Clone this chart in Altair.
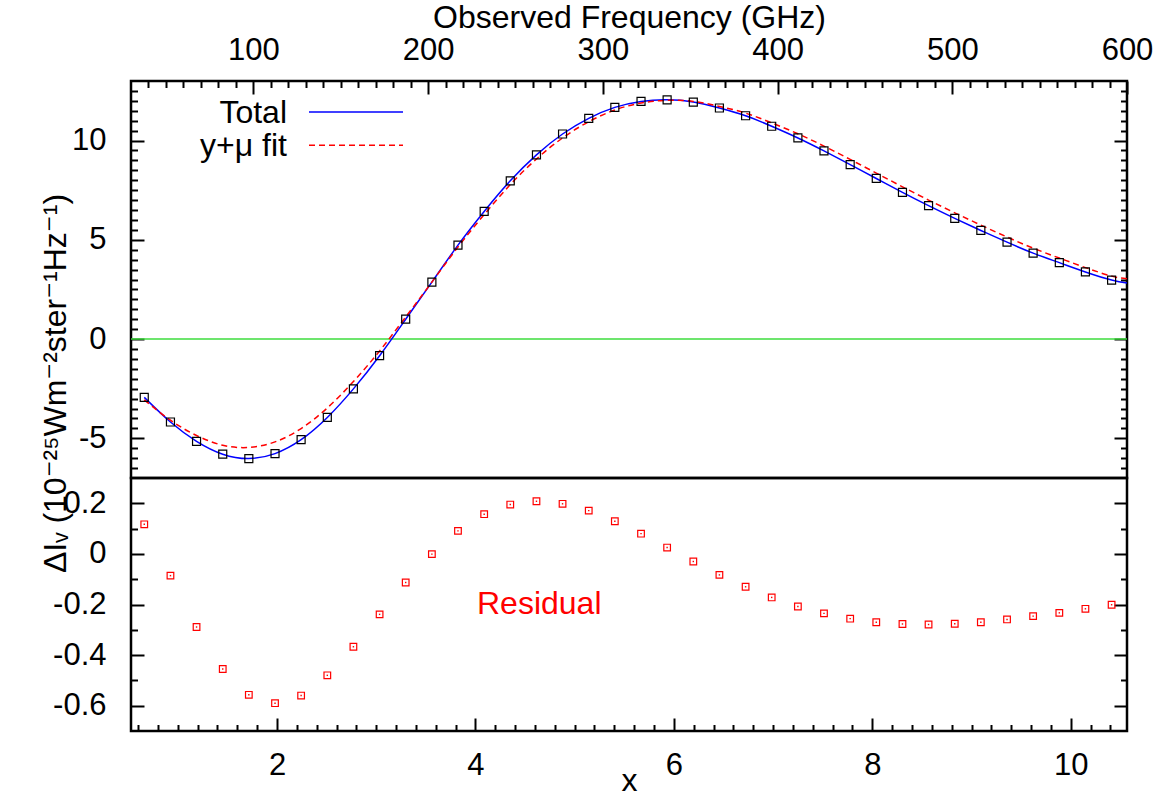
import altair as alt
import pandas as pd

# ---------------- values ----------------
X = [0.662, 0.926, 1.189, 1.453, 1.716, 1.980, 2.243, 2.507, 2.770, 3.034,
     3.297, 3.561, 3.824, 4.088, 4.351, 4.615, 4.878, 5.142, 5.405, 5.669,
     5.932, 6.196, 6.459, 6.723, 6.986, 7.250, 7.513, 7.777, 8.040, 8.304,
     8.567, 8.831, 9.094, 9.358, 9.621, 9.885, 10.148, 10.412]
DATA = [-2.94, -4.18, -5.15, -5.80, -6.02, -5.77, -5.07, -3.95, -2.51, -0.84,
        1.00, 2.87, 4.73, 6.43, 7.97, 9.28, 10.33, 11.12, 11.67, 11.97,
        12.05, 11.94, 11.64, 11.25, 10.72, 10.13, 9.48, 8.79, 8.09, 7.39,
        6.72, 6.08, 5.47, 4.88, 4.33, 3.85, 3.38, 2.97]
FIT = [-3.06, -4.09, -4.86, -5.35, -5.46, -5.18, -4.51, -3.47, -2.14, -0.60,
       1.11, 2.87, 4.64, 6.27, 7.78, 9.07, 10.13, 10.95, 11.54, 11.89,
       12.03, 11.97, 11.72, 11.38, 10.89, 10.34, 9.72, 9.05, 8.36, 7.67,
       7.00, 6.36, 5.74, 5.14, 4.58, 4.08, 3.60, 3.17]
RESID = [0.117, -0.086, -0.289, -0.455, -0.557, -0.590, -0.560, -0.480, -0.367, -0.239,
         -0.113, -0.001, 0.091, 0.157, 0.195, 0.208, 0.198, 0.171, 0.129, 0.080,
         0.025, -0.030, -0.083, -0.130, -0.172, -0.208, -0.235, -0.256, -0.270, -0.277,
         -0.279, -0.276, -0.270, -0.259, -0.246, -0.233, -0.217, -0.201]
CURVE_END_X = 10.567
TOTAL_END = 2.82
FIT_END = 3.04

FREQ_MAJOR = [100, 200, 300, 400, 500, 600]
FREQ_MINOR = [f for f in range(40, 600, 10) if f % 100 != 0]
TOP_Y_MAJOR = [-5, 0, 5, 10]
TOP_Y_MINOR = [v / 2 for v in range(-13, 26) if v % 10 != 0]
BOT_X_MAJOR = [2, 4, 6, 8, 10]
BOT_X_MINOR = [k / 5 for k in range(3, 53) if k % 10 != 0]
BOT_Y_MAJOR = [-0.6, -0.4, -0.2, 0, 0.2]
BOT_Y_MINOR = [-0.5, -0.3, -0.1, 0.1]

YTITLE = "ΔIᵥ (10⁻²⁵Wm⁻²ster⁻¹Hz⁻¹)"

# ---------------- layout / style ----------------
FONT = "Liberation Sans, Arial, DejaVu Sans"
W, H_TOP, H_BOT = 996, 397, 253
GHZ = 0.04799243 / 2.725          # x = h nu / k T per GHz
XDOM = [30 * GHZ, 600 * GHZ]
MAJ, MIN = 13, 6.5
LAB = 31
TIT = 32

pts = pd.DataFrame({"x": X, "data": DATA, "resid": RESID})
curve = pd.DataFrame({"x": X + [CURVE_END_X], "total": DATA + [TOTAL_END], "fit": FIT + [FIT_END]})
one = pd.DataFrame({"k": [0]})
zero = pd.DataFrame({"y": [0]})

xs = alt.Scale(domain=XDOM, nice=False, zero=False)
yt = alt.Scale(domain=[-7, 13], nice=False, zero=False)
yb = alt.Scale(domain=[-0.7, 0.3], nice=False, zero=False)


def tick_axis(orient, values, size):
    return alt.Axis(orient=orient, values=values, tickSize=size, offset=-size,
                    labels=False, domain=False, title=None, grid=False, ticks=True)


def carrier(xaxis, yaxis, yfield, yscale):
    return alt.Chart(pts).mark_point(opacity=0).encode(
        x=alt.X("x:Q", scale=xs, axis=xaxis),
        y=alt.Y(f"{yfield}:Q", scale=yscale, axis=yaxis))


# ---------------- top panel ----------------
top_x_lab = alt.Axis(orient="top", values=[f * GHZ for f in FREQ_MAJOR],
                     labelExpr=f"toString(round(datum.value / {GHZ}))",
                     ticks=False, tickSize=0, domain=False, labelPadding=21.7,
                     labelBaseline="alphabetic", labelFlush=False, labelOverlap=False,
                     title="Observed Frequency (GHz)", titleFontSize=TIT,
                     titleBaseline="alphabetic", titleY=-53.7, grid=False)
top_y_lab = alt.Axis(orient="left", values=TOP_Y_MAJOR, labelExpr="toString(datum.value)",
                     ticks=False, tickSize=0, domain=False, labelPadding=25,
                     labelFlush=False, labelOverlap=False,
                     title=YTITLE, titleFontSize=TIT, titleBaseline="alphabetic",
                     titleX=-66, titleY=302, titleAngle=270, titleAlign="center", grid=False)

fm = [f * GHZ for f in FREQ_MAJOR]
fn = [f * GHZ for f in FREQ_MINOR]

top_layers = [
    alt.Chart(zero).mark_rule(color="#3cdc3c", strokeWidth=1.5).encode(
        y=alt.Y("y:Q", scale=yt, axis=None)),
    carrier(top_x_lab, top_y_lab, "data", yt),
    carrier(tick_axis("top", fm, MAJ), tick_axis("left", TOP_Y_MAJOR, MAJ), "data", yt),
    carrier(tick_axis("top", fn, MIN), tick_axis("left", TOP_Y_MINOR, MIN), "data", yt),
    carrier(None, tick_axis("right", TOP_Y_MAJOR, MAJ), "data", yt),
    carrier(None, tick_axis("right", TOP_Y_MINOR, MIN), "data", yt),
    alt.Chart(curve).mark_line(color="#0000ff", strokeWidth=1.5, interpolate="natural").encode(
        x=alt.X("x:Q", scale=xs, axis=None), y=alt.Y("total:Q", scale=yt, axis=None)),
    alt.Chart(curve).mark_line(color="#ff0000", strokeWidth=1.5, strokeDash=[6, 4],
                               interpolate="natural").encode(
        x=alt.X("x:Q", scale=xs, axis=None), y=alt.Y("fit:Q", scale=yt, axis=None)),
    alt.Chart(pts).mark_point(shape="square", filled=False, size=64, color="black",
                              strokeWidth=1.2, opacity=1).encode(
        x=alt.X("x:Q", scale=xs, axis=None), y=alt.Y("data:Q", scale=yt, axis=None)),
    # legend
    alt.Chart(one).mark_text(align="right", baseline="alphabetic", font=FONT, fontSize=TIT,
                             color="black").encode(
        x=alt.value(156), y=alt.value(42), text=alt.value("Total")),
    alt.Chart(one).mark_rule(color="#0000ff", strokeWidth=1.5).encode(
        x=alt.value(178), x2=alt.value(272), y=alt.value(31)),
    alt.Chart(one).mark_text(align="right", baseline="alphabetic", font=FONT, fontSize=TIT,
                             color="black").encode(
        x=alt.value(156), y=alt.value(75.3), text=alt.value("y+μ fit")),
    alt.Chart(one).mark_rule(color="#ff0000", strokeWidth=1.5, strokeDash=[6, 4]).encode(
        x=alt.value(178), x2=alt.value(272), y=alt.value(64.3)),
]
top = alt.layer(*top_layers).resolve_axis(x="independent", y="independent").properties(
    width=W, height=H_TOP)

# ---------------- bottom panel ----------------
bot_x_lab = alt.Axis(orient="bottom", values=BOT_X_MAJOR, labelExpr="toString(datum.value)",
                     ticks=False, tickSize=0, domain=False, labelPadding=19.3,
                     labelFlush=False, labelOverlap=False,
                     title="x", titleFontSize=TIT, titleBaseline="alphabetic", titleY=59.3,
                     grid=False)
bot_y_lab = alt.Axis(orient="left", values=BOT_Y_MAJOR,
                     labelExpr="toString(round(datum.value * 10) / 10)",
                     ticks=False, tickSize=0, domain=False, labelPadding=25,
                     labelFlush=False, labelOverlap=False, title=None, grid=False)

bot_layers = [
    carrier(bot_x_lab, bot_y_lab, "resid", yb),
    carrier(tick_axis("bottom", BOT_X_MAJOR, MAJ), tick_axis("left", BOT_Y_MAJOR, MAJ), "resid", yb),
    carrier(tick_axis("bottom", BOT_X_MINOR, MIN), tick_axis("left", BOT_Y_MINOR, MIN), "resid", yb),
    carrier(None, tick_axis("right", BOT_Y_MAJOR, MAJ), "resid", yb),
    carrier(None, tick_axis("right", BOT_Y_MINOR, MIN), "resid", yb),
    alt.Chart(pts).mark_point(shape="square", filled=False, size=44, color="#ff0000",
                              strokeWidth=1.2, opacity=1).encode(
        x=alt.X("x:Q", scale=xs, axis=None), y=alt.Y("resid:Q", scale=yb, axis=None)),
    alt.Chart(pts).mark_square(size=2, color="#ff0000", opacity=1).encode(
        x=alt.X("x:Q", scale=xs, axis=None), y=alt.Y("resid:Q", scale=yb, axis=None)),
    alt.Chart(one).mark_text(align="left", baseline="alphabetic", font=FONT, fontSize=TIT,
                             color="#ff0000").encode(
        x=alt.value(346), y=alt.value(136.3), text=alt.value("Residual")),
]
bottom = alt.layer(*bot_layers).resolve_axis(x="independent", y="independent").properties(
    width=W, height=H_BOT)

chart = alt.vconcat(top, bottom, spacing=0, bounds="flush").resolve_scale(
    x="independent", y="independent"
).properties(
    padding={"left": 37, "top": 0, "right": 8, "bottom": 14},
    background="white",
).configure_view(
    stroke="black", strokeWidth=2.5
).configure_axis(
    grid=False, labelFont=FONT, titleFont=FONT, labelFontSize=LAB, titleFontSize=TIT,
    labelColor="black", titleColor="black", tickColor="black", tickWidth=2,
    domainColor="black", titleFontWeight="normal", labelFontWeight="normal"
)

chart.save("out.html", embed_options={"renderer": "svg", "actions": False})
